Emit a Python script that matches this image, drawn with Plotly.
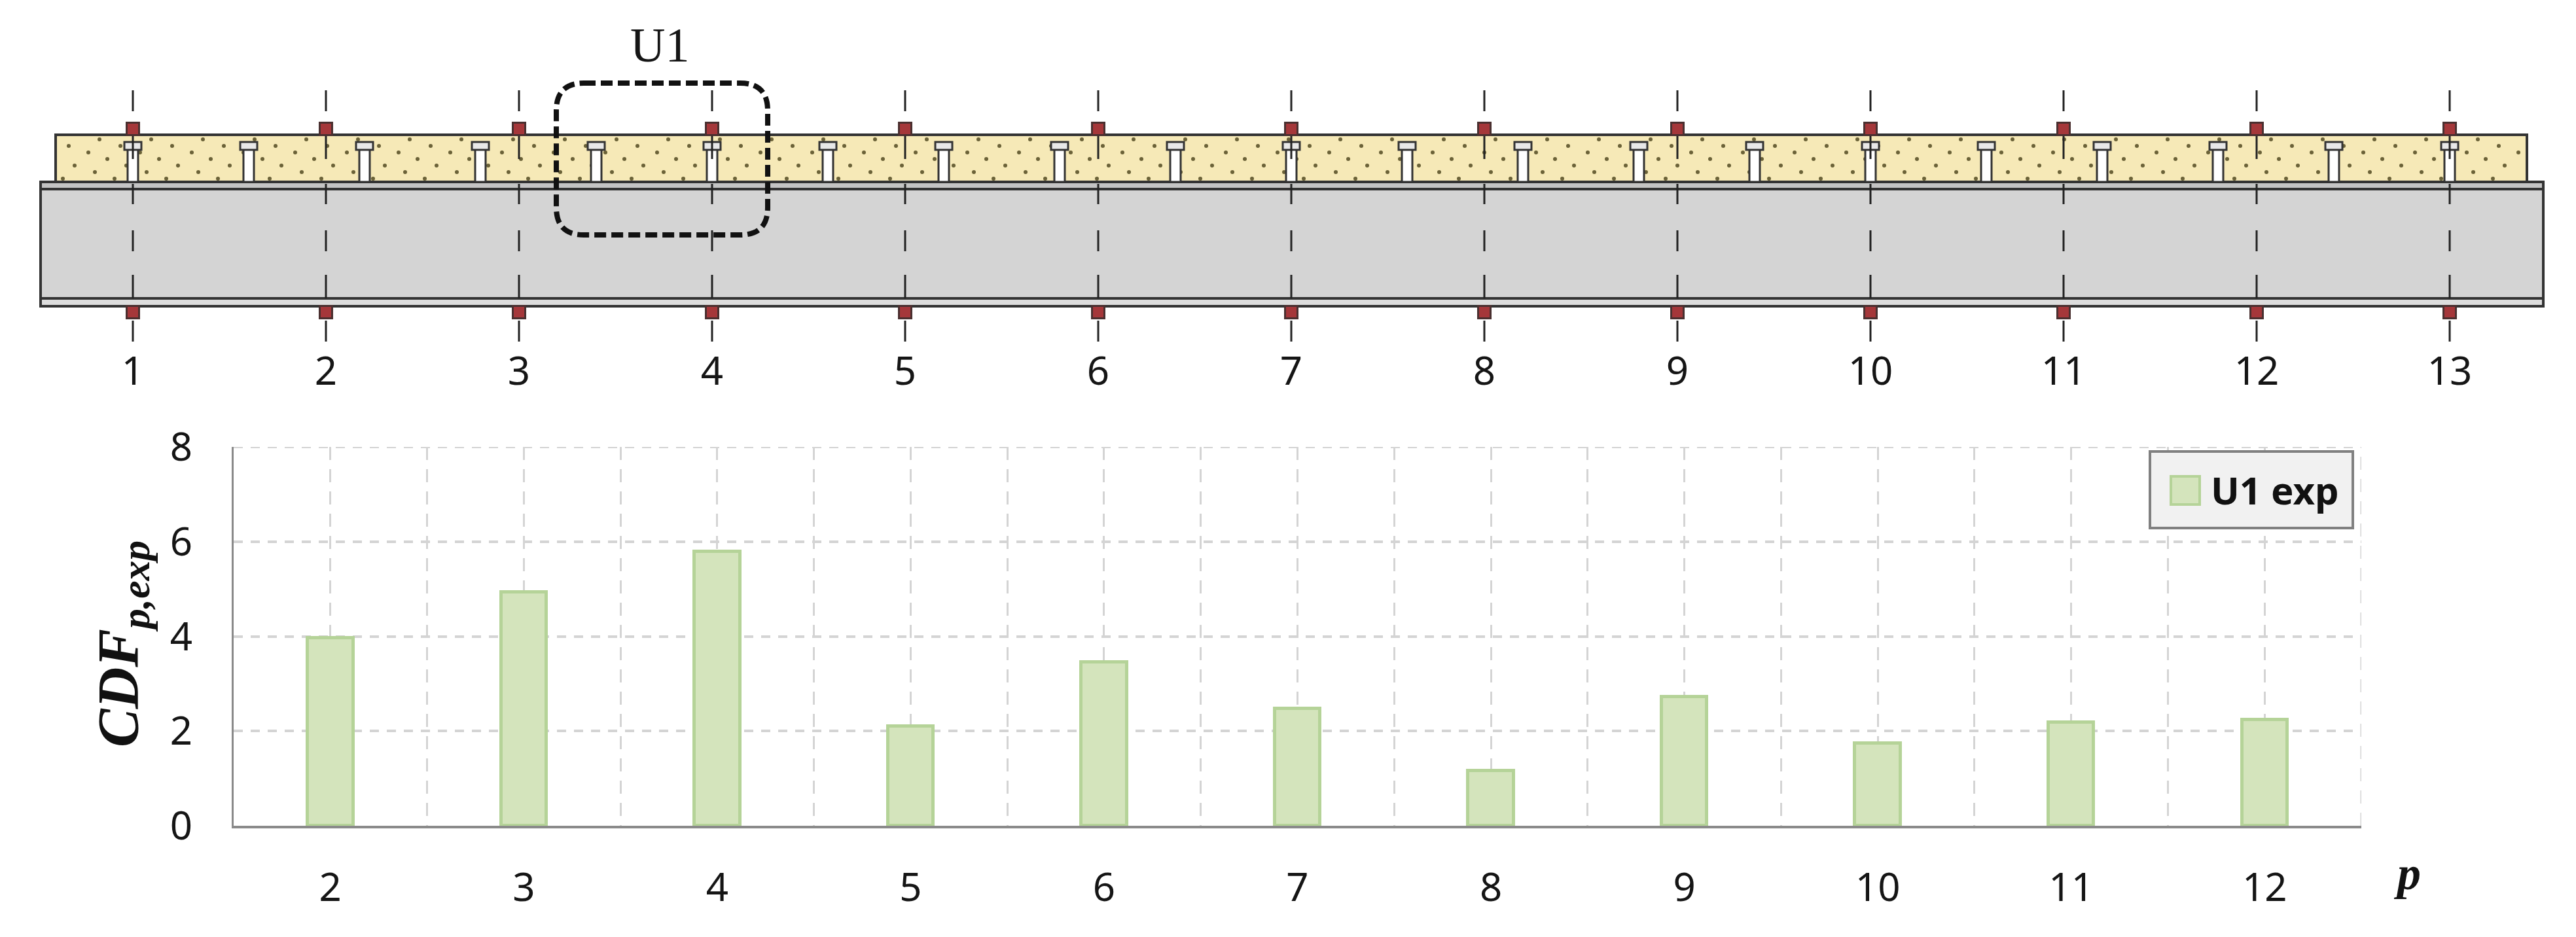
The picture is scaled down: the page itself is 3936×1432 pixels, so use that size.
## Bar chart of CDF per support for girder U1, with the girder sketch above it.
import plotly.graph_objs as go

# chart values
p_vals = [2, 3, 4, 5, 6, 7, 8, 9, 10, 11, 12]
cdf_exp = [3.96, 4.93, 5.79, 2.10, 3.46, 2.48, 1.16, 2.72, 1.74, 2.19, 2.24]
y_ticks = [0, 2, 4, 6, 8]

# sketch values
supports = list(range(1, 14))
support_labels = [str(s) for s in supports]
studs = [1 + 0.6 * k for k in range(21)]
dash_spans = [[138, 170], [208, 243], [281, 312], [352, 384], [420, 456], [490, 522]]
dot_rows = [[213, 705], [223, 816], [233, 767], [243, 717], [253, 746], [263, 777], [273, 807]]

W, H = 3936, 1432
SKETCH_BOTTOM = 527  # pixel row where the sketch axes end
GRID = '#d4d4d4'
TEXT = '#151515'
DARK = '#333333'
SPAN_PX = 295
FIRST_PX = 203


def sx(px):
    # pixel column -> sketch axis position (support number)
    return 1 + (px - FIRST_PX) / SPAN_PX


def rect(x0, x1, y0, y1, fill, line_color=DARK, width=3, layer='below'):
    return dict(type='rect', xref='x2', yref='y2', x0=sx(x0), x1=sx(x1), y0=y0, y1=y1,
                fillcolor=fill, line=dict(color=line_color, width=width), layer=layer)


fig = go.Figure()

## bars
fig.add_trace(go.Bar(x=p_vals, y=cdf_exp, width=0.235, name='U1 exp', showlegend=False,
                     marker=dict(color='#d4e4bc', line=dict(color='#b5d398', width=5))))

## sketch: slab dots
dot_x, dot_y = [], []
for row_y, row_x in dot_rows:
    px = row_x % 79
    while px < 3858:
        if px > 88:
            dot_x.append(sx(px))
            dot_y.append(row_y)
        px += 79
fig.add_trace(go.Scatter(x=dot_x, y=dot_y, mode='markers', xaxis='x2', yaxis='y2', showlegend=False,
                         marker=dict(color='#6b6238', size=6, symbol='circle')))

## sketch: anchor plates above and below
fig.add_trace(go.Scatter(x=supports, y=[197] * 13, mode='markers', xaxis='x2', yaxis='y2', showlegend=False,
                         marker=dict(color='#a5373a', size=19, symbol='square', line=dict(color='#4a3030', width=3))))
fig.add_trace(go.Scatter(x=supports, y=[477] * 13, mode='markers', xaxis='x2', yaxis='y2', showlegend=False,
                         marker=dict(color='#a5373a', size=19, symbol='square', line=dict(color='#4a3030', width=3))))

shapes = [
    rect(85, 3861, 206, 278, '#f6e9b7', width=4),
    rect(62, 3886, 278, 468, '#d4d4d4', width=4),
    rect(62, 3886, 278, 289, '#c4c4c4', width=4),
    rect(62, 3886, 456, 468, '#dddddd', width=4),
    # plotly skips the gridlines that sit on the range ends
    dict(type='line', xref='x', yref='y', x0=1.5, x1=12.5, y0=8, y1=8, layer='below',
         line=dict(color=GRID, width=4, dash='14px,12px')),
    dict(type='line', xref='x', yref='y', x0=12.5, x1=12.5, y0=0, y1=8, layer='below',
         line=dict(color=GRID, width=3, dash='20px,14px')),
]

## studs
for s in studs:
    px = FIRST_PX + (s - 1) * SPAN_PX
    shapes.append(rect(px - 8, px + 8, 228, 278, '#ffffff', width=3, layer='above'))
    shapes.append(rect(px - 13, px + 13, 217, 229, '#e8e8e8', width=3, layer='above'))

## centre lines of the supports
for s in supports:
    for y0, y1 in dash_spans:
        shapes.append(dict(type='line', xref='x2', yref='y2', x0=s, x1=s, y0=y0, y1=y1, layer='above',
                           line=dict(color='#222222', width=3)))

## dashed box around U1
bx0, bx1, by0, by1, r = 850, 1173, 127, 359, 42
box_path = (f'M {sx(bx0 + r)} {by0} L {sx(bx1 - r)} {by0} Q {sx(bx1)} {by0} {sx(bx1)} {by0 + r} '
            f'L {sx(bx1)} {by1 - r} Q {sx(bx1)} {by1} {sx(bx1 - r)} {by1} '
            f'L {sx(bx0 + r)} {by1} Q {sx(bx0)} {by1} {sx(bx0)} {by1 - r} '
            f'L {sx(bx0)} {by0 + r} Q {sx(bx0)} {by0} {sx(bx0 + r)} {by0} Z')
shapes.append(dict(type='path', xref='x2', yref='y2', path=box_path, layer='above',
                   line=dict(color='#111111', width=8, dash='18px,8px')))

## legend box drawn by hand, the swatch is bigger than plotly allows
shapes.append(dict(type='rect', xref='paper', yref='paper', x0=3285 / W, x1=3595 / W, y0=1 - 807 / H, y1=1 - 690 / H,
                   fillcolor='#f1f1f1', line=dict(color='#808080', width=4), layer='above'))
shapes.append(dict(type='rect', xref='paper', yref='paper', x0=3317 / W, x1=3361 / W, y0=1 - 771 / H, y1=1 - 728 / H,
                   fillcolor='#d4e4bc', line=dict(color='#b5d398', width=4), layer='above'))

annotations = [
    dict(text='U1 exp', xref='paper', yref='paper', x=3376 / W, y=1 - 748 / H, xanchor='left', yanchor='middle',
         showarrow=False, font=dict(family='Noto Sans', size=58, color='#111111', weight='bold')),
    dict(text='U1', xref='paper', yref='paper', x=1008 / W, y=1 - 69 / H, xanchor='center', yanchor='middle',
         showarrow=False, font=dict(family='Liberation Serif', size=74, color=TEXT)),
    dict(text='<b><i>CDF<sub>p,exp</sub></i></b>', xref='paper', yref='paper', x=186 / W, y=1 - 984 / H,
         xanchor='center', yanchor='middle', textangle=-90, showarrow=False,
         font=dict(family='Liberation Serif', size=88, color='#111111')),
    dict(text='<b><i>p</i></b>', xref='paper', yref='paper', x=3678 / W, y=1 - 1335 / H,
         xanchor='center', yanchor='middle', showarrow=False,
         font=dict(family='Liberation Serif', size=72, color='#111111')),
]

fig.update_layout(
    width=W, height=H, autosize=False, margin=dict(l=0, r=0, t=0, b=0, pad=0),
    paper_bgcolor='white', plot_bgcolor='white', showlegend=False, bargap=0,
    font=dict(family='Noto Sans', color=TEXT),
    shapes=shapes, annotations=annotations,
    xaxis=dict(domain=[357 / W, 3608 / W], anchor='y', range=[1.5, 12.5], tickmode='array', tickvals=p_vals,
               tickfont=dict(size=60, color=TEXT), ticks='', ticklabelstandoff=39, automargin=False,
               showgrid=True, gridcolor=GRID, griddash='20px,14px', gridwidth=3,
               minor=dict(tickmode='array', tickvals=[x + 0.5 for x in [1] + p_vals], showgrid=True,
                          gridcolor=GRID, griddash='20px,14px', gridwidth=3),
               showline=True, linecolor='#8a8a8a', linewidth=4, zeroline=False),
    yaxis=dict(domain=[1 - 1262 / H, 1 - 683 / H], anchor='x', range=[0, 8], tickmode='array', tickvals=y_ticks,
               tickfont=dict(size=60, color=TEXT), ticks='', ticklabelstandoff=48, automargin=False,
               showgrid=True, gridcolor=GRID, griddash='14px,12px', gridwidth=4,
               showline=True, linecolor='#8a8a8a', linewidth=3, zeroline=False),
    xaxis2=dict(domain=[0, 1], anchor='y2', range=[sx(0), sx(W)], tickmode='array', tickvals=supports,
                ticktext=support_labels, tickfont=dict(size=60, color=TEXT), ticks='', automargin=False,
                showgrid=False, showline=False, zeroline=False),
    yaxis2=dict(domain=[1 - SKETCH_BOTTOM / H, 1], anchor='x2', range=[SKETCH_BOTTOM, 0], visible=False,
                automargin=False, showgrid=False, zeroline=False),
)

fig.write_html("out.html", config={'displayModeBar': False}, post_script="document.body.style.margin='0';")
